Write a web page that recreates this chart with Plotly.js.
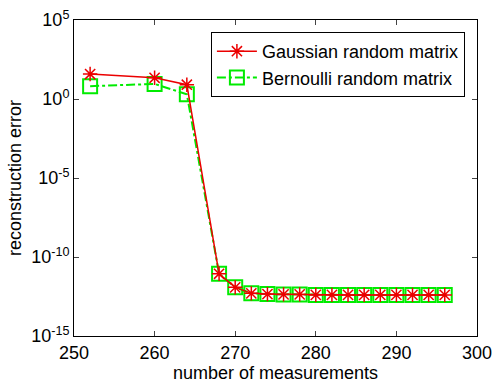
<!DOCTYPE html>
<html>
<head>
<meta charset="utf-8">
<script src="https://cdn.plot.ly/plotly-3.0.1.min.js"></script>
<style>html,body{margin:0;padding:0;background:#fff;}#chart{width:495px;height:388px;}</style>
</head>
<body>
<div id="chart"></div>
<script>
var measurements = [252, 260, 264, 268, 270, 272, 274, 276, 278, 280, 282, 284, 286, 288, 290, 292, 294, 296];
var gaussianError = [38, 22, 8, 8.7e-12, 1.2e-12, 5e-13, 4.5e-13, 4.3e-13, 4.3e-13, 4e-13, 4e-13, 4e-13, 4e-13, 4e-13, 4e-13, 4e-13, 4e-13, 4e-13];
var bernoulliError = [6.5, 9, 2, 8.7e-12, 1.2e-12, 5e-13, 4.5e-13, 4.3e-13, 4.3e-13, 4e-13, 4e-13, 4e-13, 4e-13, 4e-13, 4e-13, 4e-13, 4e-13, 4e-13];
var yTickVals = [1e-15, 1e-10, 1e-5, 1, 1e5];
var yTickText = ['10<sup>-15</sup>', '10<sup>-10</sup>', '10<sup>-5</sup>', '10<sup>0</sup>', '10<sup>5</sup>'];
var xTickVals = [250, 260, 270, 280, 290, 300];

var traces = [
  {
    x: measurements, y: bernoulliError, name: 'Bernoulli random matrix',
    mode: 'lines+markers', type: 'scatter',
    line: {color: 'rgb(0,235,0)', width: 2, dash: 'dashdot'},
    marker: {symbol: 'square-open', size: 14, color: 'rgb(0,235,0)', line: {width: 2, color: 'rgb(0,235,0)'}}
  },
  {
    x: measurements, y: gaussianError, name: 'Gaussian random matrix',
    mode: 'lines+markers', type: 'scatter',
    line: {color: 'rgb(235,0,0)', width: 1.5},
    marker: {symbol: 'asterisk-open', size: 12, color: 'rgb(235,0,0)', line: {width: 1.5, color: 'rgb(235,0,0)'}}
  }
];

var fontFam = 'Liberation Sans, Arial, sans-serif';
var layout = {
  width: 495, height: 388,
  margin: {l: 74, r: 18, t: 20, b: 52},
  paper_bgcolor: '#fff', plot_bgcolor: '#fff',
  font: {family: fontFam, size: 18, color: '#000'},
  showlegend: true,
  legend: {
    x: 0.970, xanchor: 'right', y: 0.962, yanchor: 'top',
    bgcolor: '#fff', bordercolor: '#000', borderwidth: 1,
    traceorder: 'reversed', font: {family: fontFam, size: 18, color: '#000'},
    tracegroupgap: 0, itemwidth: 40
  },
  xaxis: {
    range: [250, 300], tickvals: xTickVals, ticks: 'inside', ticklen: 5,
    showline: true, linecolor: '#000', linewidth: 1, mirror: 'ticks',
    showgrid: false, zeroline: false,
    tickfont: {family: fontFam, size: 18, color: '#000'},
    title: {text: 'number of measurements', font: {family: fontFam, size: 18, color: '#000'}, standoff: 2}
  },
  yaxis: {
    type: 'log', range: [-15, 5], tickvals: yTickVals, ticktext: yTickText,
    ticks: 'inside', ticklen: 5,
    showline: true, linecolor: '#000', linewidth: 1, mirror: 'ticks',
    showgrid: false, zeroline: false,
    tickfont: {family: fontFam, size: 18, color: '#000'},
    title: {text: 'reconstruction error', font: {family: fontFam, size: 18, color: '#000'}, standoff: 4}
  }
};

Plotly.newPlot('chart', traces, layout, {displayModeBar: false, staticPlot: true});
</script>
</body>
</html>
